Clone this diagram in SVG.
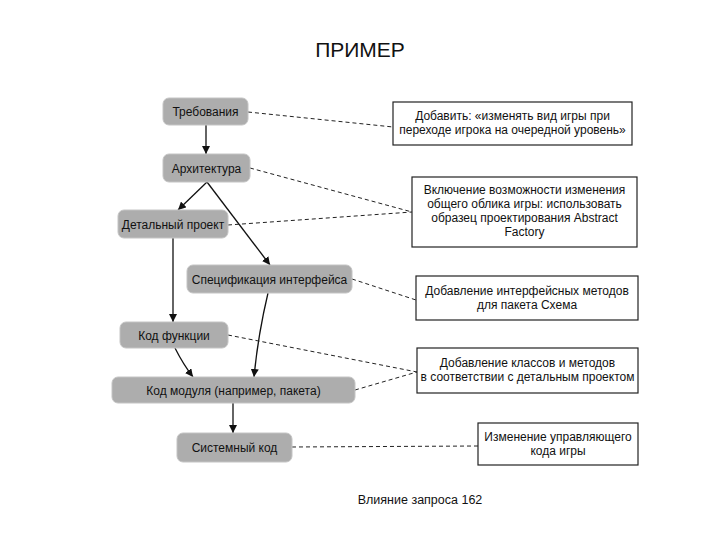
<svg xmlns="http://www.w3.org/2000/svg" width="720" height="540" viewBox="0 0 720 540">
<style>
.node rect{fill:#adadad;stroke:#c4c4c4;stroke-width:1}
.node text{font-family:"Liberation Sans",Arial,sans-serif;font-size:12px;fill:#111;text-anchor:middle}
.box rect{fill:#fff;stroke:#222;stroke-width:1.2}
.box text{font-family:"Liberation Sans",Arial,sans-serif;font-size:12px;fill:#111;text-anchor:middle}
.solid{stroke:#111;stroke-width:1.3;fill:none;marker-end:url(#ah)}
.dash{stroke:#222;stroke-width:1;fill:none;stroke-dasharray:4,3}
</style>
<defs>
<marker id="ah" viewBox="0 0 10 10" refX="10" refY="5" markerWidth="8" markerHeight="8" markerUnits="userSpaceOnUse" orient="auto">
<path d="M0,0 L10,5 L0,10 z" fill="#111"/>
</marker>
</defs>
<rect width="720" height="540" fill="#fff"/>
<text x="360" y="57" font-family="Liberation Sans,Arial,sans-serif" font-size="21" text-anchor="middle" fill="#111">ПРИМЕР</text>

<g id="connectors">
<path class="solid" d="M206,125 L206,154"/>
<path class="solid" d="M207,182 L178,210"/>
<path class="solid" d="M207,182 L270,265"/>
<path class="solid" d="M173,238 L173,322"/>
<path class="solid" d="M175,348 Q183,364 193,377"/>
<path class="solid" d="M268,293 Q258,335 254,377"/>
<path class="solid" d="M233,403 L233,433"/>
<path class="dash" d="M248,112 L393,127"/>
<path class="dash" d="M250,168 L412,212"/>
<path class="dash" d="M228,225 L412,212"/>
<path class="dash" d="M352,279 L416,300"/>
<path class="dash" d="M228,335 L417,372"/>
<path class="dash" d="M355,390 L417,372"/>
<path class="dash" d="M292,447 L478,446"/>
</g>

<g id="n1" class="node"><rect x="163" y="98" width="85" height="27" rx="6"/><text x="205.5" y="116">Требования</text></g>
<g id="n2" class="node"><rect x="163" y="154" width="87" height="28" rx="6"/><text x="206.5" y="172.5">Архитектура</text></g>
<g id="n3" class="node"><rect x="118" y="210" width="110" height="28" rx="6"/><text x="173" y="228.5">Детальный проект</text></g>
<g id="n4" class="node"><rect x="187" y="265" width="165" height="28" rx="6"/><text x="269.5" y="283.5">Спецификация интерфейса</text></g>
<g id="n5" class="node"><rect x="120" y="322" width="108" height="26" rx="6"/><text x="174" y="339.5">Код функции</text></g>
<g id="n6" class="node"><rect x="112" y="377" width="243" height="26" rx="6"/><text x="233.5" y="394.5">Код модуля (например, пакета)</text></g>
<g id="n7" class="node"><rect x="177" y="433" width="115" height="29" rx="6"/><text x="234.5" y="451.5">Системный код</text></g>

<g id="b1" class="box"><rect x="393" y="102" width="239" height="43"/><text x="512.5" y="120">Добавить: «изменять вид игры при</text><text x="512.5" y="134">переходе игрока на очередной уровень»</text></g>
<g id="b2" class="box"><rect x="412" y="177" width="225" height="70"/><text x="524.5" y="194">Включение возможности изменения</text><text x="524.5" y="208">общего облика игры: использовать</text><text x="524.5" y="222">образец проектирования Abstract</text><text x="524.5" y="236">Factory</text></g>
<g id="b3" class="box"><rect x="416" y="276" width="222" height="44"/><text x="527" y="295">Добавление интерфейсных методов</text><text x="527" y="309">для пакета Схема</text></g>
<g id="b4" class="box"><rect x="417" y="348" width="221" height="45"/><text x="527.5" y="367">Добавление классов и методов</text><text x="527.5" y="381">в соответствии с детальным проектом</text></g>
<g id="b5" class="box"><rect x="478" y="423" width="160" height="42"/><text x="558" y="441">Изменение управляющего</text><text x="558" y="455">кода игры</text></g>

<text x="420" y="504" font-family="Liberation Sans,Arial,sans-serif" font-size="12.5" text-anchor="middle" fill="#111">Влияние запроса 162</text>
</svg>
